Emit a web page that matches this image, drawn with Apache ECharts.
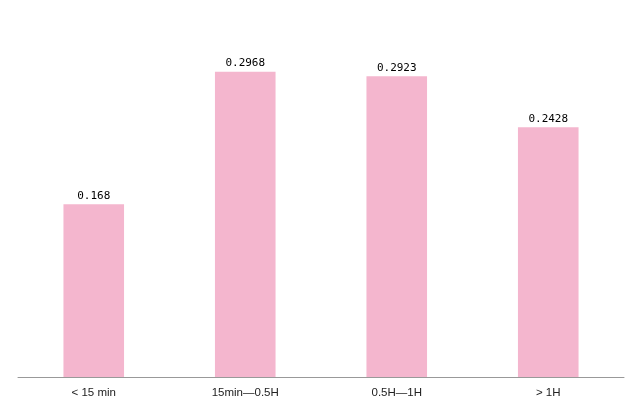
<!DOCTYPE html>
<html>
<head>
<meta charset="utf-8">
<script src="https://cdn.jsdelivr.net/npm/echarts@6/dist/echarts.min.js"></script>
<style>html,body{margin:0;padding:0;background:#fff}#c{width:640px;height:417px}</style>
</head>
<body>
<div id="c"></div>
<script>
const categories = ['< 15 min', '15min\u20140.5H', '0.5H\u20141H', '> 1H'];
const values = [0.168, 0.2968, 0.2923, 0.2428];

const chart = echarts.init(document.getElementById('c'));
chart.setOption({
  animation: false,
  grid: { left: 18, right: 16, top: 17, bottom: 40 },
  xAxis: {
    type: 'category',
    data: categories,
    axisLine: { lineStyle: { color: '#999', width: 1 } },
    axisTick: { show: false },
    axisLabel: { color: '#222', fontSize: 11.5, margin: 10, fontFamily: 'Liberation Sans' }
  },
  yAxis: {
    type: 'value',
    min: 0,
    max: 0.35,
    show: false,
    splitLine: { show: false }
  },
  series: [{
    type: 'bar',
    data: values,
    barWidth: '40%',
    itemStyle: { color: '#f4b6ce' },
    label: {
      show: true,
      position: 'top',
      color: '#000',
      fontSize: 11,
      fontFamily: 'DejaVu Sans Mono',
      distance: 3
    }
  }]
});
</script>
</body>
</html>
